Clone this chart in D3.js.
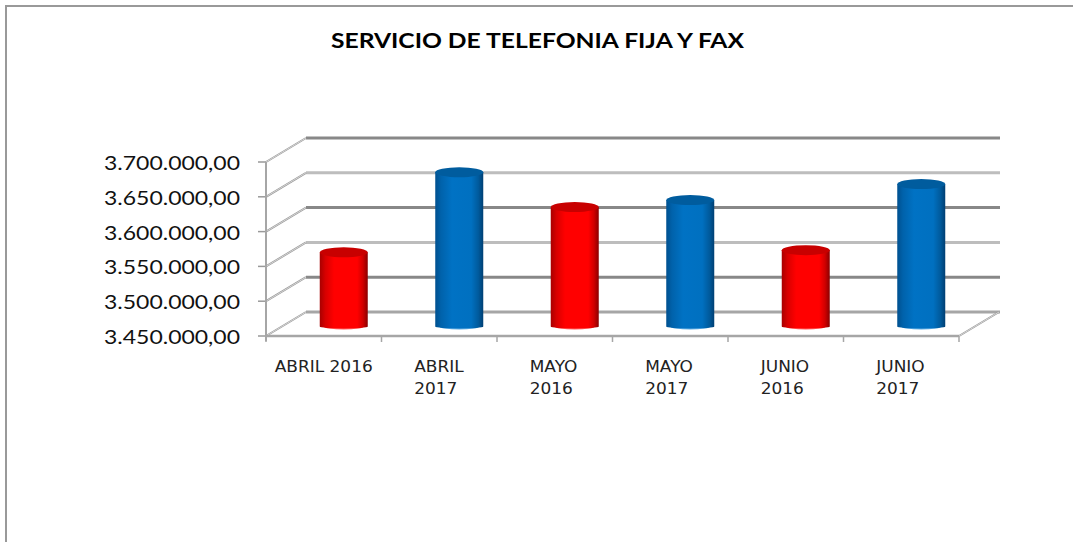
<!DOCTYPE html>
<html><head><meta charset="utf-8">
<script src="https://cdnjs.cloudflare.com/ajax/libs/d3/7.8.5/d3.min.js"></script>
<style>html,body{margin:0;padding:0;background:#fff}svg{display:block}</style>
</head><body><svg id="c" width="1073" height="542"></svg>
<script>
const title = "SERVICIO DE TELEFONIA FIJA Y FAX";
const categories = ["ABRIL 2016","ABRIL 2017","MAYO 2016","MAYO 2017","JUNIO 2016","JUNIO 2017"];
const labelLines = [["ABRIL 2016"],["ABRIL","2017"],["MAYO","2016"],["MAYO","2017"],["JUNIO","2016"],["JUNIO","2017"]];
const values = [3553000,3668000,3618000,3628000,3556000,3651000];
const years = [2016,2017,2016,2017,2016,2017];
const yTicks = [3450000,3500000,3550000,3600000,3650000,3700000];
const gridDark = [true,true,false,true,false,true];

const svg = d3.select("#c");
const x = d3.scaleBand().domain(categories).range([266,959]).padding(0);
const y = d3.scaleLinear().domain([3450000,3700000]).range([336,162]);
const dx = 40, dy = -24, barW = 48, ry = 5;
const fmt = v => d3.format(",.2f")(v).replace(/,/g,"#").replace(".",",").replace(/#/g,".");

const defs = svg.append("defs");
function grad(id, stops){
  const g = defs.append("linearGradient").attr("id",id).attr("x1",0).attr("x2",1).attr("y1",0).attr("y2",0);
  stops.forEach(s=>g.append("stop").attr("offset",s[0]).attr("stop-color",s[1]));
}
grad("r",[[0,"#a80000"],[.12,"#d80000"],[.3,"#ff0000"],[.78,"#ff0000"],[.9,"#d00000"],[1,"#8a0000"]]);
grad("b",[[0,"#00508f"],[.12,"#0062ab"],[.35,"#0072c4"],[.75,"#0070c0"],[.9,"#005a9c"],[1,"#003f73"]]);

// frame
svg.append("path").attr("d","M6,542V6H1073").attr("fill","none").attr("stroke","#999").attr("stroke-width",2);

// title
svg.append("text").attr("x",537.5).attr("y",48).attr("text-anchor","middle")
  .attr("font-family","Lato").attr("font-weight",700).attr("font-size",20).attr("fill","#000")
  .attr("textLength",413).attr("lengthAdjust","spacingAndGlyphs").text(title);

// grid on back wall + side wall
const grid = svg.append("g");
yTicks.forEach((t,i)=>{
  const c = gridDark[i] ? "#888" : "#bdbdbd";
  grid.append("line").attr("x1",266+dx).attr("x2",959+dx+1).attr("y1",y(t)+dy).attr("y2",y(t)+dy)
    .attr("stroke", i===0 ? "#a6a6a6" : c).attr("stroke-width",3);
  grid.append("line").attr("x1",266).attr("x2",266+dx).attr("y1",y(t)).attr("y2",y(t)+dy)
    .attr("stroke","#9a9a9a").attr("stroke-width",2);
  grid.append("line").attr("x1",266).attr("x2",266+dx).attr("y1",y(t)).attr("y2",y(t)+dy)
    .attr("stroke","#d4d4d4").attr("stroke-width",1);
  grid.append("line").attr("x1",258).attr("x2",266).attr("y1",y(t)).attr("y2",y(t)).attr("stroke","#999").attr("stroke-width",1.5);
  svg.append("text").attr("x",240).attr("y",y(t)+8).attr("text-anchor","end")
    .attr("font-family","Lato").attr("font-size",18.5).attr("fill","#111")
    .attr("textLength",136).attr("lengthAdjust","spacingAndGlyphs").text(fmt(t));
});

// front axes
const axisC = "#a6a6a6";
svg.append("line").attr("x1",266).attr("x2",266).attr("y1",y(3700000)).attr("y2",y(3450000)+5).attr("stroke",axisC).attr("stroke-width",2);
svg.append("line").attr("x1",266).attr("x2",959).attr("y1",y(3450000)).attr("y2",y(3450000)).attr("stroke",axisC).attr("stroke-width",2.5);
[...categories.map(c=>x(c)), 959].forEach(px=>{
  svg.append("line").attr("x1",px).attr("x2",px).attr("y1",336).attr("y2",342).attr("stroke",axisC).attr("stroke-width",1.5);
});
svg.append("line").attr("x1",959).attr("x2",959+dx).attr("y1",y(3450000)).attr("y2",y(3450000)+dy).attr("stroke","#9a9a9a").attr("stroke-width",2);
svg.append("line").attr("x1",959).attr("x2",959+dx).attr("y1",y(3450000)).attr("y2",y(3450000)+dy).attr("stroke","#d4d4d4").attr("stroke-width",1);

// cylinders
categories.forEach((c,i)=>{
  const cx = x(c)+x.bandwidth()/2+dx/2;
  const base = y(3450000)+dy/2+2.5, top = y(values[i])+dy/2;
  const is16 = years[i]===2016;
  const g = svg.append("g");
  g.append("ellipse").attr("cx",cx).attr("cy",base).attr("rx",barW/2-4).attr("ry",3).attr("fill",is16?"#ff5a5a":"#5aa8e0");
  g.append("path").attr("d",`M${cx-barW/2},${top}V${base}A${barW/2},2 0 0 0 ${cx+barW/2},${base}V${top}Z`)
    .attr("fill",`url(#${is16?"r":"b"})`);
  g.append("ellipse").attr("cx",cx).attr("cy",top).attr("rx",barW/2).attr("ry",ry).attr("fill",is16?"#c80000":"#005c9e");
});

// category labels
categories.forEach((c,i)=>{
  const cx = x(c)+x.bandwidth()/2;
  const lines = labelLines[i];
  lines.forEach((l,k)=>{
    const t = svg.append("text").attr("y",372+k*21.5)
      .attr("font-family","DejaVu Sans").attr("font-size",15).attr("fill","#222").text(l);
    const w = t.node().getComputedTextLength()*1.13;
    t.attr("textLength",w).attr("lengthAdjust","spacingAndGlyphs");
    if (lines.length>1) t.attr("x",cx-25);
    else t.attr("x",cx).attr("text-anchor","middle");
  });
});
</script></body></html>
